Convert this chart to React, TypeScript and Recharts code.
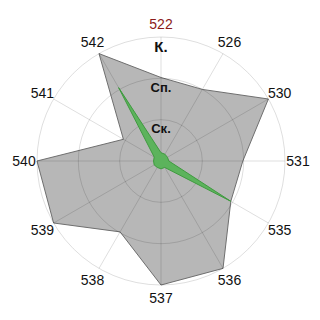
import { RadarChart, Radar, PolarGrid, PolarAngleAxis, PolarRadiusAxis } from "recharts"

// stations clockwise from the top
const stations = ["522", "526", "530", "531", "535", "536", "537", "538", "539", "540", "541", "542"]
// outer (grey) series, 1 = Ск., 2 = Сп., 3 = К.
const outerValues = [2.02, 2.0, 3, 1.98, 1.95, 3, 3, 1.98, 3, 3, 1.05, 3]
// inner (green) series
const innerValues = [0.2, 0.19, 0.18, 0.19, 1.95, 0.18, 0.19, 0.18, 0.19, 0.18, 0.19, 2.05]
const levelLabels: Record<number, string> = { 1: "Ск.", 2: "Сп.", 3: "К." }

const data = stations.map((s, i) => ({ name: s, outer: outerValues[i], inner: innerValues[i] }))

const CX = 161
const CY = 161
const R = 124

function AngleTick(props: any) {
  const { x, y, payload } = props
  const dx = x - CX
  const dy = y - CY
  const d = Math.sqrt(dx * dx + dy * dy) || 1
  const r = R + 13
  const tx = CX + (dx / d) * r
  const ty = CY + (dy / d) * r
  return (
    <text
      x={tx}
      y={ty}
      textAnchor="middle"
      dominantBaseline="central"
      fontSize={14}
      fontFamily="Liberation Sans, Arial, sans-serif"
      fill={payload.value === "522" ? "#8b1a1a" : "#111"}
    >
      {payload.value}
    </text>
  )
}

function LevelTick(props: any) {
  const { x, y, payload } = props
  const label = levelLabels[payload.value]
  if (!label) return null
  return (
    <text
      x={x}
      y={y + 9}
      textAnchor="middle"
      dominantBaseline="central"
      fontSize={payload.value === 3 ? 15 : 13}
      fontWeight="bold"
      fontFamily="Liberation Sans, Arial, sans-serif"
      fill="#111"
    >
      {label}
    </text>
  )
}

export default function App() {
  return (
    <div style={{ position: "absolute", left: 0, top: 0, width: 320, height: 320, background: "#fff" }}>
      <RadarChart width={320} height={320} data={data} cx={CX} cy={CY} outerRadius={R} startAngle={90} endAngle={-270}>
        <Radar dataKey="outer" stroke="#6f6f6f" strokeWidth={1} fill="#b7b7b7" fillOpacity={1} isAnimationActive={false} />
        <Radar dataKey="inner" stroke="#3f9a3f" strokeWidth={1} fill="#5cb35c" fillOpacity={1} zIndex={1100} isAnimationActive={false} />
        <PolarGrid gridType="circle" stroke="#000" strokeOpacity={0.13} zIndex={1000} />
        <PolarAngleAxis dataKey="name" tick={<AngleTick />} tickLine={false} axisLine={false} />
        <PolarRadiusAxis angle={90} domain={[0, 3]} tickCount={4} axisLine={false} tick={<LevelTick />} zIndex={1200} />
      </RadarChart>
    </div>
  )
}
